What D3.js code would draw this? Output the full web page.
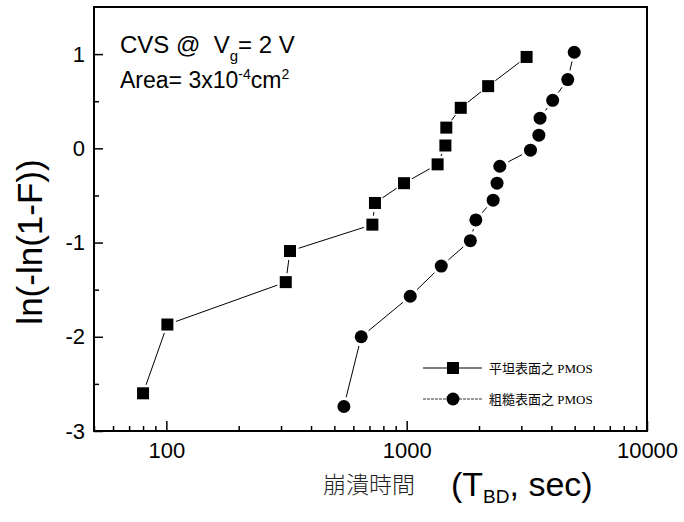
<!DOCTYPE html>
<html>
<head>
<meta charset="utf-8">
<script src="https://cdn.jsdelivr.net/npm/d3@7"></script>
<style>
  body { margin: 0; background: #fff; }
  svg { display: block; }
</style>
</head>
<body>
<div id="chart"></div>
<script>
// breakdown time (sec) and ln(-ln(1-F))
var flatTime = [80, 101, 314, 327, 720, 738, 975, 1345, 1449, 1462, 1679, 2183, 3155];
var flatWeib = [-2.60, -1.87, -1.42, -1.09, -0.81, -0.58, -0.37, -0.17, 0.03, 0.22, 0.43, 0.66, 0.97];
var roughTime = [548, 647, 1035, 1393, 1841, 1940, 2290, 2377, 2441, 3275, 3548, 3590, 4050, 4680, 4980];
var roughWeib = [-2.74, -2.00, -1.57, -1.25, -0.98, -0.76, -0.55, -0.37, -0.19, -0.02, 0.14, 0.32, 0.51, 0.73, 1.02];
var xTicks = [100, 1000, 10000];
var yTicks = [-3, -2, -1, 0, 1];
var legendNames = ["平坦表面之 PMOS", "粗糙表面之 PMOS"];

var width = 684, height = 522;
var plotLeft = 94, plotRight = 647, plotTop = 7, plotBottom = 431;

var svg = d3.select("#chart")
            .append("svg")
            .attr("width", width)
            .attr("height", height)
            .style("font-family", "Liberation Sans, Arial, sans-serif");

var x = d3.scaleLog().domain([50, 10000]).range([plotLeft, plotRight]);
var y = d3.scaleLinear().domain([-3, 1.5]).range([plotBottom, plotTop]);

// minor ticks
var xMinor = [];
[10, 100, 1000].forEach(function(dec) {
  for (var k = 2; k <= 9; k++) {
    var v = dec * k;
    if (v >= 50 && v < 10000 && xTicks.indexOf(v) < 0) xMinor.push(v);
  }
});
var yMinor = [-2.5, -1.5, -0.5, 0.5];

svg.append("g")
   .attr("transform", "translate(0," + plotBottom + ")")
   .call(d3.axisBottom(x).tickValues(xMinor).tickSize(-5).tickFormat(""))
   .call(function(g) { g.select(".domain").remove(); })
   .selectAll("line").attr("stroke-width", 1.5);

svg.append("g")
   .attr("transform", "translate(0," + plotBottom + ")")
   .call(d3.axisBottom(x).tickValues(xTicks).tickSize(-10).tickPadding(11)
         .tickFormat(d3.format("d")))
   .call(function(g) { g.select(".domain").remove(); })
   .call(function(g) {
     g.selectAll("line").attr("stroke-width", 1.5);
     g.selectAll("text").attr("font-size", "22px").attr("fill", "#000")
      .attr("font-family", "Liberation Sans, Arial, sans-serif");
   });

svg.append("g")
   .attr("transform", "translate(" + plotLeft + ",0)")
   .call(d3.axisLeft(y).tickValues(yMinor).tickSize(-5).tickFormat(""))
   .call(function(g) { g.select(".domain").remove(); })
   .selectAll("line").attr("stroke-width", 1.5);

svg.append("g")
   .attr("transform", "translate(" + plotLeft + ",0)")
   .call(d3.axisLeft(y).tickValues(yTicks).tickSize(-9).tickPadding(9)
         .tickFormat(function(d) { return d; }))
   .call(function(g) { g.select(".domain").remove(); })
   .call(function(g) {
     g.selectAll("line").attr("stroke-width", 1.5);
     g.selectAll("text").attr("font-size", "22px").attr("fill", "#000")
      .attr("font-family", "Liberation Sans, Arial, sans-serif");
   });

// frame
svg.append("rect")
   .attr("x", plotLeft).attr("y", plotTop)
   .attr("width", plotRight - plotLeft).attr("height", plotBottom - plotTop)
   .attr("fill", "none").attr("stroke", "#000").attr("stroke-width", 2);

// line segments that stop short of the symbols
function gappedLine(xs, ys, gap, sw) {
  var pts = xs.map(function(d, i) { return [x(d), y(ys[i])]; });
  for (var i = 0; i < pts.length - 1; i++) {
    var a = pts[i], b = pts[i + 1];
    var dx = b[0] - a[0], dy = b[1] - a[1];
    var len = Math.sqrt(dx * dx + dy * dy);
    if (len <= 2 * gap + 1) continue;
    var ux = dx / len, uy = dy / len;
    svg.append("line")
       .attr("x1", a[0] + ux * gap).attr("y1", a[1] + uy * gap)
       .attr("x2", b[0] - ux * gap).attr("y2", b[1] - uy * gap)
       .attr("stroke", "#000").attr("stroke-width", sw);
  }
}

gappedLine(flatTime, flatWeib, 9, 1);
gappedLine(roughTime, roughWeib, 9.5, 1);

svg.selectAll("rect.sq")
   .data(flatTime)
   .enter()
   .append("rect")
   .attr("class", "sq")
   .attr("x", function(d) { return x(d) - 6; })
   .attr("y", function(d, i) { return y(flatWeib[i]) - 6; })
   .attr("width", 12).attr("height", 12)
   .attr("fill", "#000");

svg.selectAll("circle.pt")
   .data(roughTime)
   .enter()
   .append("circle")
   .attr("class", "pt")
   .attr("cx", function(d) { return x(d); })
   .attr("cy", function(d, i) { return y(roughWeib[i]); })
   .attr("r", 6.5)
   .attr("fill", "#000");

// annotation
var t1 = svg.append("text").attr("x", 120).attr("y", 53).attr("font-size", "24px");
t1.append("tspan").text("CVS @\u00a0\u00a0V");
t1.append("tspan").attr("dy", 8).attr("font-size", "15px").text("g");
t1.append("tspan").attr("dy", -8).text("= 2 V");

var t2 = svg.append("text").attr("x", 120).attr("y", 88).attr("font-size", "23px");
t2.append("tspan").text("Area= 3x10");
t2.append("tspan").attr("dy", -9).attr("font-size", "14px").text("-4");
t2.append("tspan").attr("dy", 9).text("cm");
t2.append("tspan").attr("dy", -9).attr("font-size", "14px").text("2");

// legend
var legY = [368, 399];
legY.forEach(function(ly, i) {
  svg.append("line")
     .attr("x1", 423).attr("x2", 482).attr("y1", ly).attr("y2", ly)
     .attr("stroke", "#000").attr("stroke-width", i === 0 ? 1.2 : 0.8)
     .attr("stroke-dasharray", i === 0 ? null : "3,1");
  if (i === 0) {
    svg.append("rect").attr("x", 447).attr("y", ly - 6).attr("width", 12).attr("height", 12).attr("fill", "#000");
  } else {
    svg.append("circle").attr("cx", 453).attr("cy", ly).attr("r", 6.5).attr("fill", "#000");
  }
  svg.append("text")
     .attr("x", 489).attr("y", ly + 5)
     .attr("font-size", "13px")
     .attr("font-family", "Liberation Serif, 'Noto Sans CJK TC', serif")
     .text(legendNames[i]);
});

// axis titles
svg.append("text")
   .attr("transform", "translate(42,242) rotate(-90)")
   .attr("text-anchor", "middle")
   .attr("font-size", "35px")
   .text("ln(-ln(1-F))");

svg.append("text")
   .attr("x", 323).attr("y", 493)
   .attr("font-size", "23px")
   .attr("font-family", "'Noto Sans CJK TC', sans-serif")
   .attr("font-weight", 300)
   .attr("fill", "#222")
   .text("崩潰時間");

var t3 = svg.append("text").attr("x", 451).attr("y", 496).attr("font-size", "34px");
t3.append("tspan").text("(T");
t3.append("tspan").attr("dy", 7).attr("font-size", "19px").text("BD");
t3.append("tspan").attr("dy", -7).text(", sec)");
</script>
</body>
</html>
